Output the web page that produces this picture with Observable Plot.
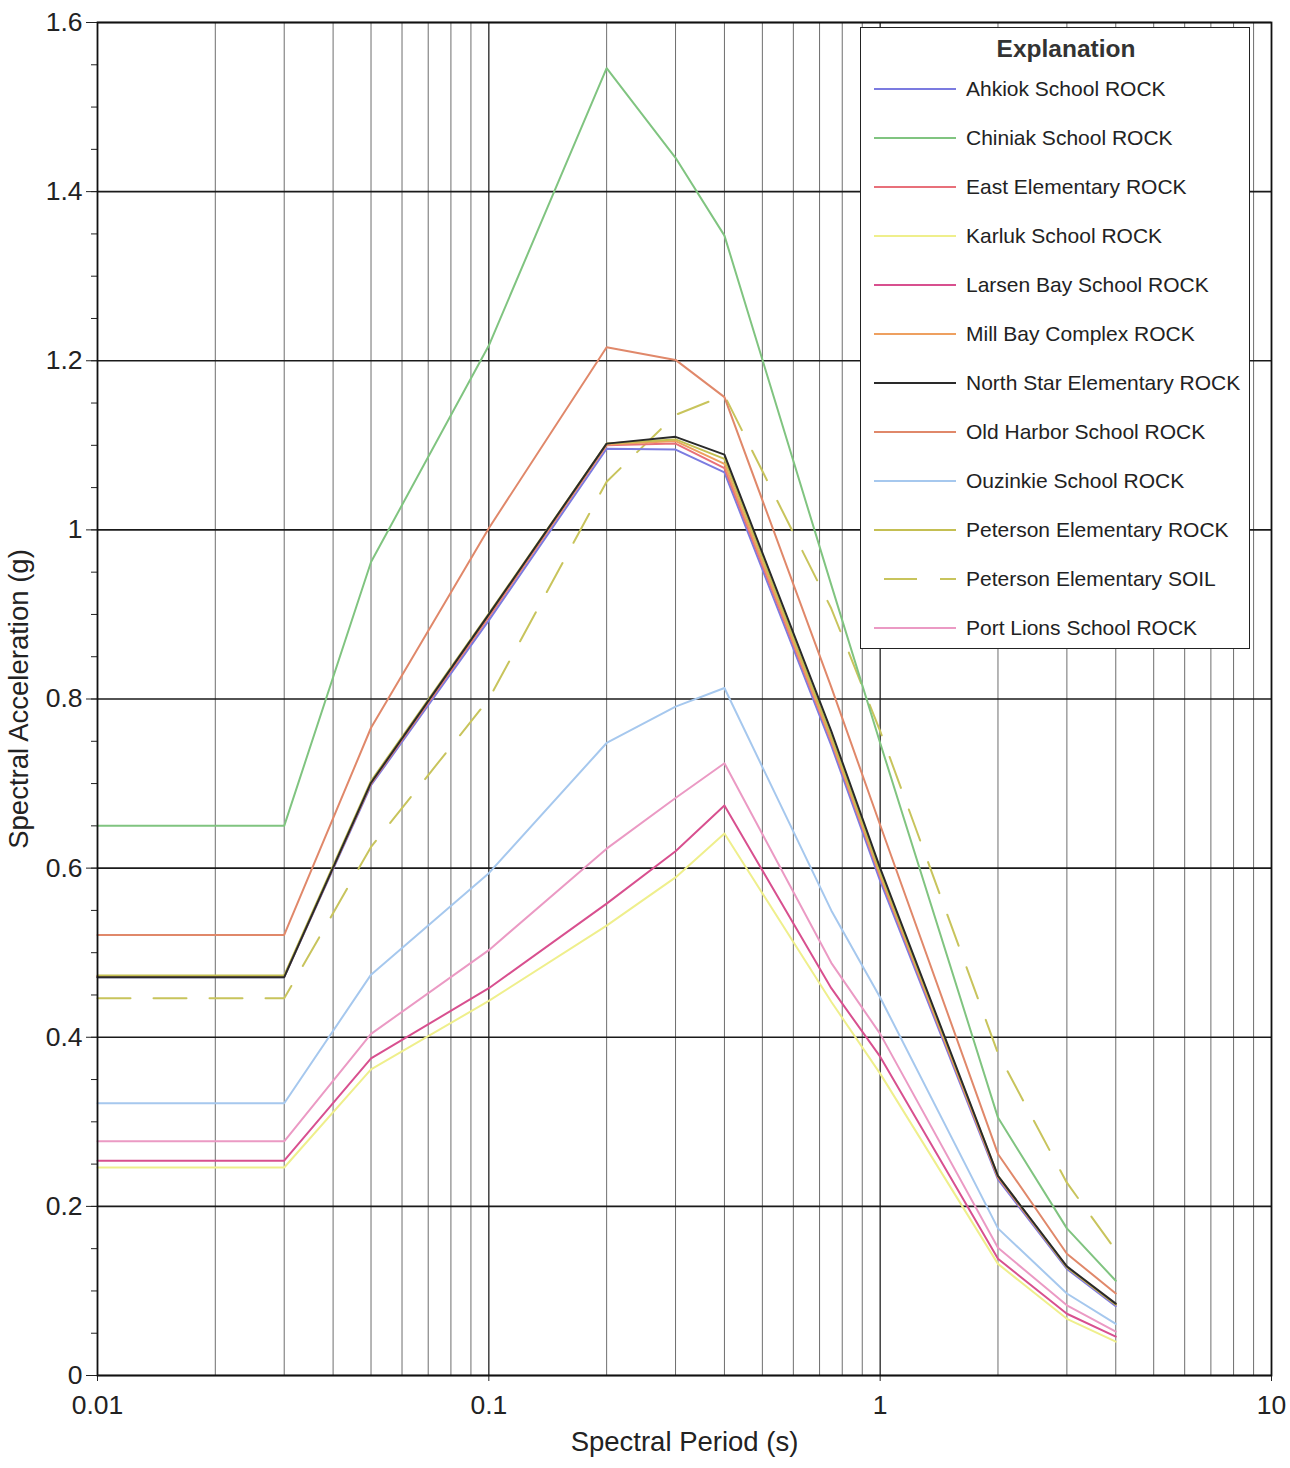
<!DOCTYPE html>
<html>
<head>
<meta charset="utf-8">
<script src="https://cdn.jsdelivr.net/npm/d3@7"></script>
<script src="https://cdn.jsdelivr.net/npm/@observablehq/plot@0.6"></script>
<style>
  body { margin: 0; background: #fff; font-family: "Liberation Sans", Arial, sans-serif; }
  #wrap { position: relative; width: 1290px; height: 1468px; }
  #legend { position: absolute; left: 860px; top: 27px; width: 390px; height: 622px;
            background: #fff; border: 1.5px solid #222; box-sizing: border-box; color: #222; }
  #legend .title { position: absolute; left: 20px; width: 370px; top: 21px; text-align: center;
                   font-weight: bold; font-size: 24.5px; line-height: 0; color: #333; }
  #legend .row { position: absolute; left: 0; width: 100%; height: 0; }
  #legend .row svg { position: absolute; left: 12px; top: -5px; }
  #legend .row span { position: absolute; left: 105px; top: 0; line-height: 0; font-size: 21px; white-space: nowrap; }
</style>
</head>
<body>
<div id="wrap"><div id="chart"></div><div id="legend"></div></div>
<script>
// ---- data ----
const periods = [0.01, 0.03, 0.05, 0.1, 0.2, 0.3, 0.4, 0.75, 1, 2, 3, 4];

const seriesNames = [
  "Ahkiok School ROCK", "Chiniak School ROCK", "East Elementary ROCK", "Karluk School ROCK",
  "Larsen Bay School ROCK", "Mill Bay Complex ROCK", "North Star Elementary ROCK",
  "Old Harbor School ROCK", "Ouzinkie School ROCK", "Peterson Elementary ROCK",
  "Peterson Elementary SOIL", "Port Lions School ROCK"
];

const ahkiok       = [0.471, 0.471, 0.698, 0.893, 1.096, 1.095, 1.068, 0.745, 0.585, 0.232, 0.126, 0.082];
const chiniak      = [0.650, 0.650, 0.962, 1.218, 1.546, 1.440, 1.348, 0.935, 0.748, 0.305, 0.174, 0.112];
const eastElem     = [0.472, 0.472, 0.700, 0.897, 1.100, 1.102, 1.073, 0.750, 0.590, 0.234, 0.128, 0.084];
const karluk       = [0.246, 0.246, 0.362, 0.443, 0.532, 0.589, 0.641, 0.442, 0.357, 0.132, 0.067, 0.040];
const larsenBay    = [0.254, 0.254, 0.375, 0.458, 0.558, 0.620, 0.674, 0.458, 0.377, 0.138, 0.073, 0.046];
const millBay      = [0.472, 0.472, 0.701, 0.899, 1.101, 1.105, 1.078, 0.752, 0.592, 0.235, 0.128, 0.084];
const northStar    = [0.471, 0.471, 0.701, 0.900, 1.102, 1.110, 1.089, 0.762, 0.600, 0.236, 0.129, 0.085];
const oldHarbor    = [0.521, 0.521, 0.766, 1.002, 1.216, 1.201, 1.157, 0.814, 0.651, 0.262, 0.144, 0.097];
const ouzinkie     = [0.322, 0.322, 0.474, 0.594, 0.748, 0.791, 0.813, 0.550, 0.447, 0.174, 0.097, 0.061];
const petersonRock = [0.473, 0.473, 0.703, 0.901, 1.102, 1.107, 1.084, 0.756, 0.595, 0.236, 0.128, 0.084];
const petersonSoil = [0.446, 0.446, 0.625, 0.800, 1.057, 1.136, 1.159, 0.907, 0.762, 0.381, 0.228, 0.148];
const portLions    = [0.277, 0.277, 0.404, 0.503, 0.623, 0.683, 0.724, 0.488, 0.404, 0.151, 0.083, 0.052];

const seriesValues = [ahkiok, chiniak, eastElem, karluk, larsenBay, millBay, northStar,
                      oldHarbor, ouzinkie, petersonRock, petersonSoil, portLions];
const seriesColors = ["#7b7be0", "#80c480", "#e8707a", "#efef8c", "#d8508f", "#eea060", "#2a2a2a",
                      "#e0886a", "#a6c8ee", "#c4bf52", "#c8c45c", "#eb9ac4"];
const seriesDash = [null, null, null, null, null, null, null, null, null, null, "33,23", null];

const xTickValues = [0.01, 0.1, 1, 10];
const yTickValues = [0, 0.2, 0.4, 0.6, 0.8, 1, 1.2, 1.4, 1.6];

// ---- derived helpers ----
const xMinor = [];
for (const dec of [0.01, 0.1, 1]) for (let k = 2; k <= 9; k++) xMinor.push(+(dec * k).toPrecision(3));
const yMinor = d3.range(0, 1.6001, 0.05).map(v => +v.toFixed(2));

const drawOrder = [10, 1, 7, 8, 11, 4, 3, 0, 2, 5, 9, 6];
const lineMarks = drawOrder.map(i => Plot.line(
  periods.map((p, j) => ({period: p, value: seriesValues[i][j], series: seriesNames[i]})),
  {x: "period", y: "value", stroke: seriesColors[i], strokeWidth: 2,
   strokeDasharray: seriesDash[i] || undefined}
));

const chart = Plot.plot({
  width: 1290,
  height: 1468,
  marginLeft: 97,
  marginRight: 19,
  marginTop: 22,
  marginBottom: 93,
  style: {fontFamily: '"Liberation Sans", Arial, sans-serif', fontSize: "26px", color: "#222", background: "#fff"},
  x: {type: "log", domain: [0.01, 10]},
  y: {domain: [0, 1.6]},
  marks: [
    Plot.ruleX(xMinor, {stroke: "#555", strokeWidth: 1, strokeOpacity: 0.85}),
    Plot.ruleX([0.1, 1], {stroke: "#222", strokeWidth: 1.3}),
    Plot.ruleY(yTickValues, {stroke: "#1a1a1a", strokeWidth: 1.6}),
    Plot.axisY({ticks: yMinor, tickSize: 6, tickFormat: () => "", label: null, stroke: "#222"}),
    Plot.axisY({ticks: yTickValues, tickSize: 11, tickPadding: 4, tickFormat: d => String(d),
                label: null, stroke: "#222", fontSize: 26.5}),
    Plot.axisY({ticks: [], label: "Spectral Acceleration (g)", labelAnchor: "center", labelOffset: 89,
                labelArrow: "none", fontSize: 27.5}),
    Plot.axisX({ticks: xTickValues, tickSize: 6, tickPadding: 14, tickFormat: d => String(d),
                label: null, stroke: "#222", fontSize: 26.5}),
    Plot.axisX({ticks: [], label: "Spectral Period (s)", labelAnchor: "center", labelOffset: 75,
                labelArrow: "none", fontSize: 27.5, dx: -7}),
    ...lineMarks,
    Plot.frame({stroke: "#111", strokeWidth: 1.8})
  ]
});
document.getElementById("chart").appendChild(chart);

// ---- legend ("Explanation") overlay ----
const legend = document.getElementById("legend");
const t = document.createElement("div");
t.className = "title";
t.textContent = "Explanation";
legend.appendChild(t);
seriesNames.forEach((name, i) => {
  const row = document.createElement("div");
  row.className = "row";
  row.style.top = (61 + i * 49) + "px";
  const dash = seriesDash[i] ? `stroke-dasharray="${seriesDash[i]}" stroke-dashoffset="-10"` : "";
  row.innerHTML = `<svg width="84" height="10"><line x1="1" y1="5" x2="83" y2="5" stroke="${seriesColors[i]}" stroke-width="2" ${dash}/></svg><span>${name}</span>`;
  legend.appendChild(row);
});
</script>
</body>
</html>
